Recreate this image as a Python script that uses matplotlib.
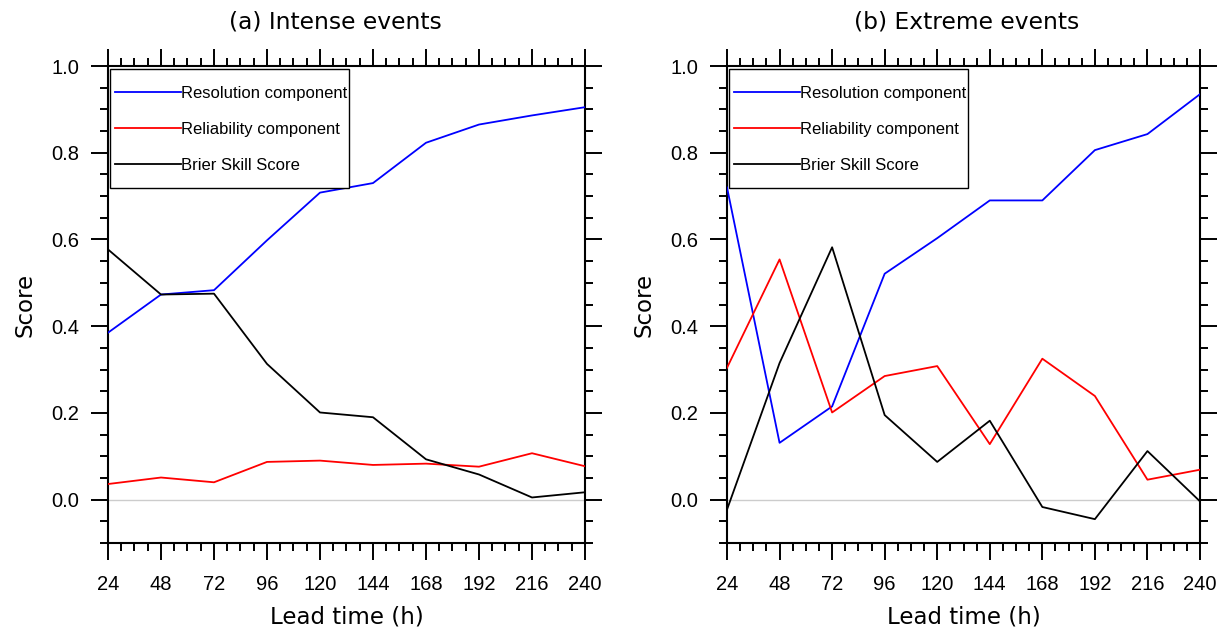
import matplotlib
matplotlib.use("Agg")
import matplotlib.pyplot as plt
from matplotlib.ticker import MultipleLocator
from matplotlib.patches import Rectangle

# lead times (h)
lead = [24, 48, 72, 96, 120, 144, 168, 192, 216, 240]

# (a) intense events
res_a = [0.385, 0.473, 0.483, 0.598, 0.708, 0.730, 0.823, 0.865, 0.886, 0.905]
rel_a = [0.036, 0.051, 0.040, 0.087, 0.090, 0.080, 0.083, 0.076, 0.107, 0.077]
bss_a = [0.577, 0.473, 0.475, 0.313, 0.201, 0.190, 0.093, 0.058, 0.005, 0.017]

# (b) extreme events
res_b = [0.720, 0.131, 0.215, 0.521, 0.603, 0.690, 0.690, 0.806, 0.843, 0.935]
rel_b = [0.304, 0.554, 0.201, 0.285, 0.308, 0.128, 0.325, 0.239, 0.046, 0.069]
bss_b = [-0.023, 0.315, 0.582, 0.195, 0.087, 0.182, -0.017, -0.045, 0.112, -0.004]

titles = ["(a) Intense events", "(b) Extreme events"]
title_x = [0.476, 0.507]
labels = ["Resolution component", "Reliability component", "Brier Skill Score"]
colors = ["#0000ff", "#ff0000", "#000000"]

tick_font = "Liberation Sans"
lab_font = "DejaVu Sans"

fig = plt.figure(figsize=(12.31, 6.31), dpi=100)
ax1 = fig.add_axes([108/1231, 1-543/631, 477/1231, 477/631])
ax2 = fig.add_axes([727/1231, 1-543/631, 473/1231, 477/631])

panels = [(ax1, [res_a, rel_a, bss_a]), (ax2, [res_b, rel_b, bss_b])]

for i, (ax, series) in enumerate(panels):
    ax.axhline(0, color="#cccccc", lw=1.0, zorder=1)
    for s, c, l in zip(series, colors, labels):
        ax.plot(lead, s, color=c, lw=1.3, label=l, zorder=3)
    ax.set_xlim(24, 240)
    ax.set_ylim(-0.1, 1.0)
    ax.xaxis.set_major_locator(MultipleLocator(24))
    ax.xaxis.set_minor_locator(MultipleLocator(6))
    ax.yaxis.set_minor_locator(MultipleLocator(0.05))
    ax.set_yticks([0.0, 0.2, 0.4, 0.6, 0.8, 1.0])
    ax.set_yticklabels(["0.0", "0.2", "0.4", "0.6", "0.8", "1.0"])
    ax.tick_params(which="both", direction="out", top=True, right=True, width=1.4)
    ax.tick_params(which="major", length=12)
    ax.tick_params(which="minor", length=6)
    ax.tick_params(axis="y", pad=8.5, labelsize=14.5)
    ax.tick_params(axis="x", pad=11, labelsize=14.5)
    for t in ax.get_xticklabels() + ax.get_yticklabels():
        t.set_fontfamily(tick_font)
    for sp in ax.spines.values():
        sp.set_linewidth(1.5)
    ax.set_title(titles[i], fontsize=16.85, family=lab_font, pad=27, x=title_x[i])
    ax.set_xlabel("Lead time (h)", fontsize=16.5, family=lab_font, labelpad=8)
    ax.set_ylabel("Score", fontsize=16.5, family=lab_font, labelpad=11)

    # legend box (frame drawn separately, NCL style)
    w = ax.get_position().width * 1231
    h = 477
    ax.add_patch(Rectangle((2/w, (543-188)/h), 239/w, 119/h, transform=ax.transAxes,
                           facecolor="white", edgecolor="black", lw=1.0, zorder=4))
    leg = ax.legend(loc="upper left", bbox_to_anchor=(7/w, 1-20/h), borderaxespad=0,
                    prop={"family": tick_font, "size": 12}, handlelength=3.95,
                    handletextpad=0, labelspacing=1.26, borderpad=0,
                    frameon=False)
    leg.set_zorder(5)

fig.savefig("out.png", dpi=100)
